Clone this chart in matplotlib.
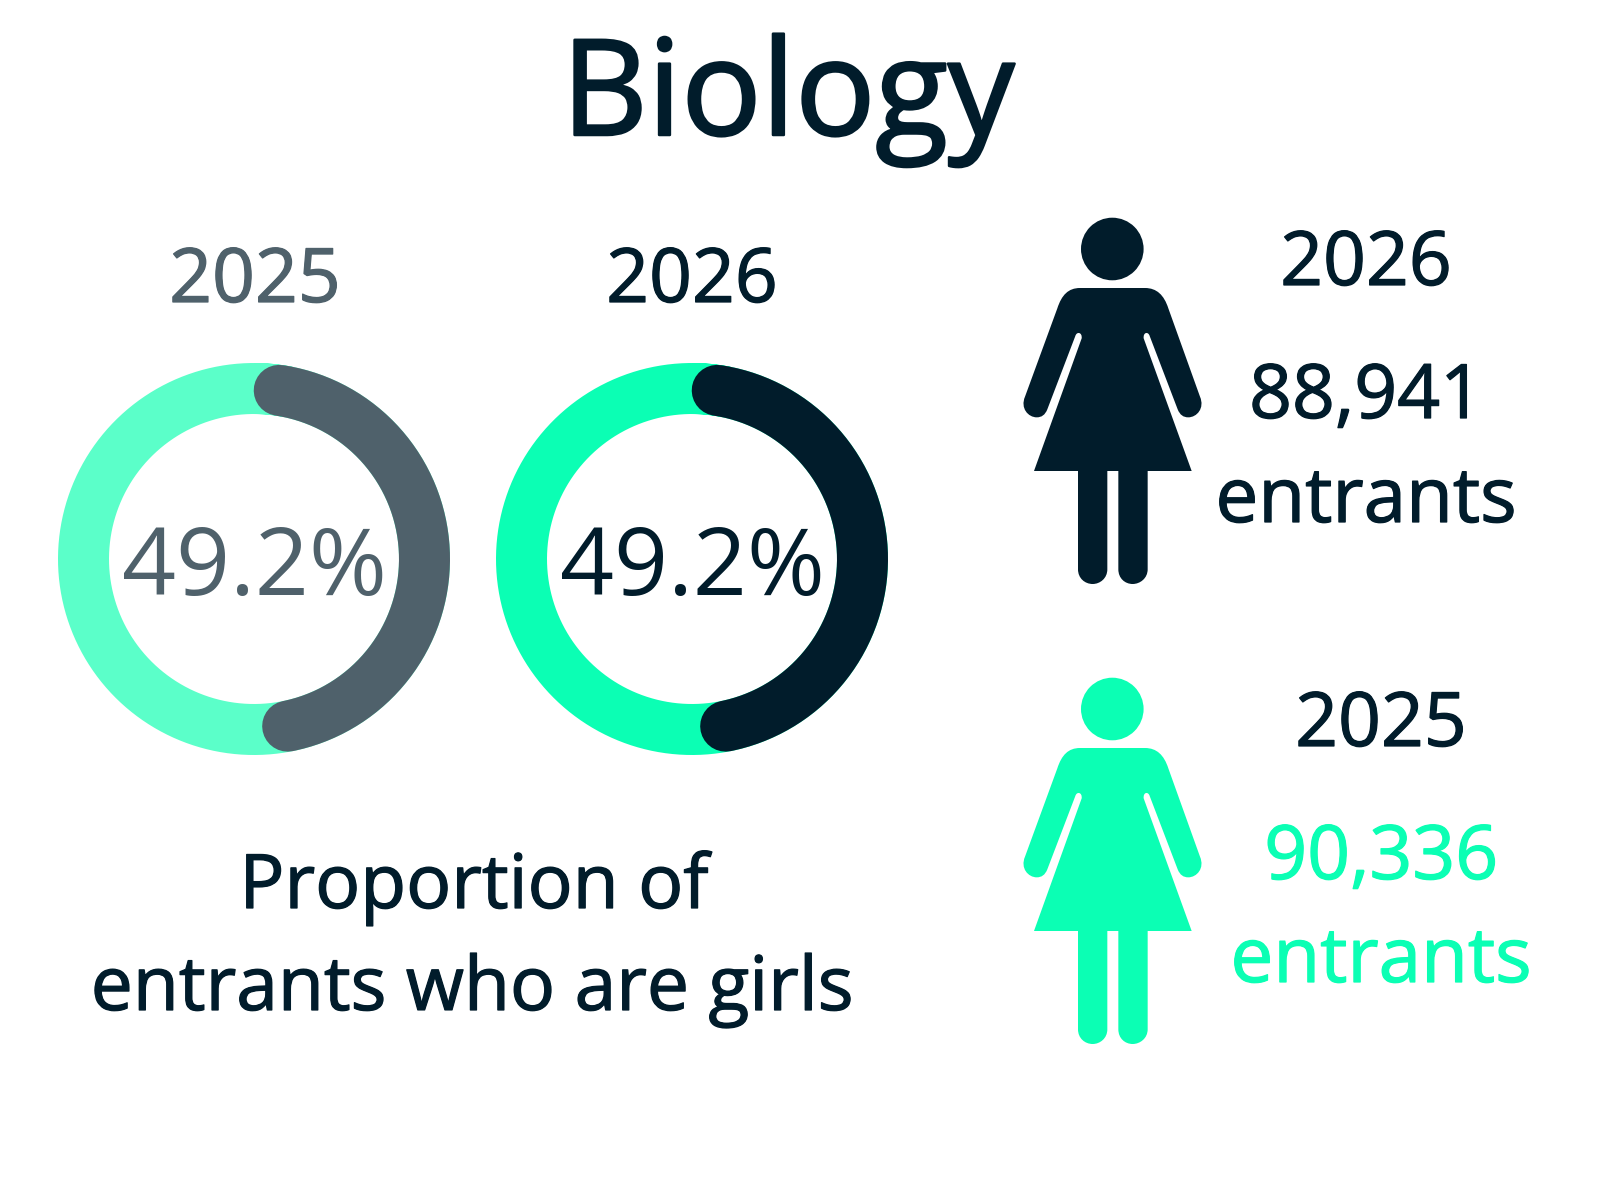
import numpy as np
import matplotlib
matplotlib.use('Agg')
import matplotlib.pyplot as plt
import matplotlib.patheffects as pe
from matplotlib.path import Path
from matplotlib.patches import PathPatch, Circle

plt.rcParams['font.family'] = ['Open Sans', 'DejaVu Sans']

W, H = 1600, 1200

TITLE = 'Biology'
years = ['2025', '2026']
girl_pct = [49.2, 49.2]
entrants = ['90,336', '88,941']
caption = ['Proportion of', 'entrants who are girls']

DARK = '#011c2b'
GREY = '#4f616b'
GREEN = '#0bffb4'
LIGHT_GREEN = '#5bffc9'

# icon outline, measured in 3x zoom pixels
M, L, C, Z = Path.MOVETO, Path.LINETO, Path.CURVE4, Path.CLOSEPOLY
icon = [
    (M, [(240, 264)]), (L, [(435, 264)]),
    (C, [(470, 264), (492, 285), (505, 325)]),
    (L, [(600, 590)]),
    (C, [(615, 625), (590, 652), (565, 652)]),
    (C, [(550, 652), (540, 645), (533, 628)]),
    (L, [(449, 408)]),
    (C, [(445, 394), (429, 396), (431, 415)]),
    (L, [(575, 813)]), (L, [(443, 813)]), (L, [(443, 1108)]),
    (C, [(443, 1135), (420, 1152), (398, 1152)]),
    (C, [(375, 1152), (355, 1135), (355, 1108)]),
    (L, [(355, 813)]), (L, [(322, 813)]), (L, [(322, 1108)]),
    (C, [(322, 1135), (300, 1152), (278, 1152)]),
    (C, [(255, 1152), (234, 1135), (234, 1108)]),
    (L, [(234, 813)]), (L, [(102, 813)]), (L, [(245, 415)]),
    (C, [(247, 396), (230, 394), (226, 408)]),
    (L, [(142, 628)]),
    (C, [(135, 645), (125, 652), (110, 652)]),
    (C, [(85, 652), (60, 625), (75, 590)]),
    (L, [(172, 325)]),
    (C, [(185, 285), (205, 264), (240, 264)]),
]


def draw_person(ax, dy, color):
    verts, codes = [], []
    for code, pts in icon:
        for p in pts:
            verts.append((1000 + p[0] / 3, 200 + dy + p[1] / 3))
            codes.append(code)
    verts.append(verts[0])
    codes.append(Z)
    ax.add_patch(PathPatch(Path(verts, codes), fc=color, ec='none'))
    ax.add_patch(Circle((1112.3, 249 + dy), 31.3, fc=color, ec='none'))


def draw_donut(fig, cx, cy, pct, track, color):
    R = 200
    ax = fig.add_axes([(cx - R) / W, 1 - (cy + R) / H, 2 * R / W, 2 * R / H],
                      projection='polar')
    ax.set_theta_zero_location('N')
    ax.set_theta_direction(-1)
    ax.set_rlim(0, 1)
    ax.axis('off')
    ax.patch.set_alpha(0)
    mid = 170.5 / R
    lw = 51 * 72 / 100
    # round caps sit inside the share, so pull the ends in by half the band
    cap = np.arctan(25.5 / 170.5)
    # a little past one turn so the join does not leave a seam
    full = np.linspace(0, 2 * np.pi + 0.2, 361)
    arc = np.linspace(cap, pct / 100 * 2 * np.pi - cap, 200)
    ax.plot(full, np.full(full.shape, mid), color=track, lw=lw,
            solid_capstyle='butt', clip_on=False)
    ax.plot(arc, np.full(arc.shape, mid), color=color, lw=lw,
            solid_capstyle='round', clip_on=False)
    return ax


fig = plt.figure(figsize=(W / 100, H / 100), dpi=100, facecolor='white')
bg = fig.add_axes([0, 0, 1, 1])
bg.set_xlim(0, W)
bg.set_ylim(H, 0)
bg.axis('off')


def label(x, y, s, size, color, stroke=0.9):
    # no medium cut of the font, so thicken the regular one a little
    t = bg.text(x, y, s, fontsize=size, color=color, ha='center', va='baseline')
    if stroke:
        t.set_path_effects([pe.withStroke(linewidth=stroke, foreground=color)])


label(788, 135, TITLE, 96, DARK, 1.8)

# donuts
label(255, 302, years[0], 54, GREY)
label(692, 302, years[1], 54, DARK)
draw_donut(fig, 254, 559, girl_pct[0], LIGHT_GREEN, GREY)
draw_donut(fig, 692, 559, girl_pct[1], GREEN, DARK)
label(254, 595, '{}%'.format(girl_pct[0]), 68, GREY, 0)
label(692, 595, '{}%'.format(girl_pct[1]), 68, DARK, 0)

label(474, 908, caption[0], 54, DARK)
label(472, 1010, caption[1], 54, DARK)

# people
draw_person(bg, 0, DARK)
draw_person(bg, 460, GREEN)

label(1366, 285, years[1], 54, DARK)
label(1366, 418, entrants[1], 54, DARK)
label(1366, 522, 'entrants', 55, DARK)

label(1381, 746, years[0], 54, DARK)
label(1381, 879, entrants[0], 54, GREEN)
label(1381, 982, 'entrants', 55, GREEN)

fig.savefig('out.png', dpi=100)
